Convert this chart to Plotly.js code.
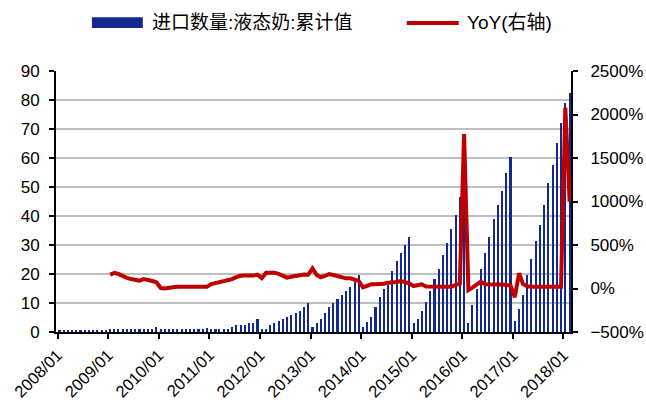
<!DOCTYPE html>
<html>
<head>
<meta charset="utf-8">
<script src="https://cdn.plot.ly/plotly-3.0.1.min.js"></script>
<style>
  html, body { margin: 0; padding: 0; background: #ffffff; }
  #chart { width: 646px; height: 410px; }
</style>
</head>
<body>
<div id="chart"></div>
<script>
// ---- Data ----
// 进口数量:液态奶:累计值 (monthly cumulative, by year)
const vol2008 = [0.8, 0.8, 0.8, 0.8, 0.8, 0.8, 0.8, 0.8, 0.8, 0.8, 0.8, 0.8];
const vol2009 = [1.0, 1.0, 1.0, 1.0, 1.0, 1.0, 1.0, 1.0, 1.0, 1.0, 1.0, 1.8];
const vol2010 = [1.0, 1.0, 1.0, 1.0, 1.0, 1.0, 1.0, 1.0, 1.0, 1.0, 1.0, 1.5];
const vol2011 = [1.0, 1.0, 1.0, 1.0, 1.0, 1.7, 2.4, 2.4, 2.4, 3.2, 3.2, 4.5];
const vol2012 = [1.15, 1.15, 2.3, 3.2, 3.9, 4.5, 5.3, 5.9, 6.7, 7.4, 8.6, 10.0];
const vol2013 = [1.7, 3.1, 4.5, 6.5, 8.5, 10.0, 11.4, 12.8, 14.1, 15.5, 17.1, 19.7];
const vol2014 = [1.8, 3.4, 5.2, 8.6, 12.1, 14.8, 16.2, 21.0, 24.5, 27.2, 30.0, 32.6];
const vol2015 = [3.0, 4.5, 7.2, 10.5, 14.1, 18.3, 21.7, 26.6, 30.7, 35.5, 40.3, 46.6];
const vol2016 = [50.0, 3.0, 9.3, 14.8, 21.7, 27.2, 32.8, 39.0, 43.8, 48.6, 54.8, 60.3];
const vol2017 = [3.9, 7.9, 12.8, 19.7, 25.2, 31.4, 36.9, 43.8, 51.4, 57.6, 65.2, 72.1];
const vol2018 = [79.0, 82.4];

// YoY(右轴), percent
const yoy2009 = [160, 180, 167, 140, 122, 110, 100, 90, 109, 92, 86, 72];
const yoy2010 = [5, 0, 3, 15, 21, 21, 21, 21, 21, 21, 21, 21];
const yoy2011 = [50, 62, 68, 80, 95, 108, 130, 146, 148, 148, 148, 160];
const yoy2012 = [120, 182, 182, 182, 168, 150, 125, 135, 146, 158, 162, 158];
const yoy2013 = [232, 155, 129, 144, 165, 155, 144, 126, 117, 117, 106, 88];
const yoy2014 = [14, 29, 48, 48, 48, 55, 67, 67, 75, 86, 67, 60];
const yoy2015 = [28, 37, 48, 22, 21, 21, 21, 21, 21, 21, 42, 52];
const yoy2016 = [1776, -17, 10, 50, 78, 50, 45, 45, 45, 45, 45, 35];
const yoy2017 = [-100, 175, 52, 25, 21, 21, 21, 21, 21, 21, 21, 21];
const yoy2018 = [2078, 998];

const years = [2008, 2009, 2010, 2011, 2012, 2013, 2014, 2015, 2016, 2017, 2018];
const tickLabels = ['2008/01', '2009/01', '2010/01', '2011/01', '2012/01', '2013/01',
                    '2014/01', '2015/01', '2016/01', '2017/01', '2018/01'];
const seriesNames = ['进口数量:液态奶:累计值', 'YoY(右轴)'];

// ---- Build traces ----
function monthDates(year, n) {
  const out = [];
  for (let m = 1; m <= n; m++) out.push(year + '-' + String(m).padStart(2, '0') + '-15');
  return out;
}
const volByYear = [vol2008, vol2009, vol2010, vol2011, vol2012, vol2013, vol2014, vol2015, vol2016, vol2017, vol2018];
const yoyByYear = [null, yoy2009, yoy2010, yoy2011, yoy2012, yoy2013, yoy2014, yoy2015, yoy2016, yoy2017, yoy2018];

let volX = [], volY = [], yoyX = [], yoyY = [];
years.forEach((yr, i) => {
  const v = volByYear[i];
  volX = volX.concat(monthDates(yr, v.length));
  volY = volY.concat(v);
  const r = yoyByYear[i];
  if (r) { yoyX = yoyX.concat(monthDates(yr, r.length)); yoyY = yoyY.concat(r); }
});
const tickVals = years.map(y => y + '-01-01');

const DAY = 86400000;
const barTrace = {
  type: 'bar', x: volX, y: volY, name: seriesNames[0],
  marker: { color: '#13288F', line: { width: 0 } },
  width: 15 * DAY, showlegend: false, hoverinfo: 'x+y'
};
const lineTrace = {
  type: 'scatter', mode: 'lines', x: yoyX, y: yoyY, name: seriesNames[1], yaxis: 'y2',
  line: { color: '#C00000', width: 4, shape: 'linear' }, showlegend: false
};

const tickFont = { family: 'Arial, "Liberation Sans", sans-serif', size: 17, color: '#000000' };
const legFont = { family: 'Arial, "Liberation Sans", "Noto Sans CJK SC", sans-serif', size: 19, color: '#000000' };

const layout = {
  width: 646, height: 410,
  margin: { l: 56, r: 75, t: 71, b: 78, pad: 0 },
  paper_bgcolor: '#ffffff', plot_bgcolor: '#ffffff',
  showlegend: false,
  bargap: 0,
  xaxis: {
    type: 'date', range: ['2007-12-21', '2018-02-25'],
    tickmode: 'array', tickvals: tickVals, ticktext: tickLabels,
    tickangle: -45, tickfont: { family: 'Arial, "Liberation Sans", sans-serif', size: 16.5, color: '#000000' },
    ticks: 'outside', ticklen: 5, tickwidth: 2, tickcolor: '#000000',
    showline: true, linecolor: '#000000', linewidth: 2,
    showgrid: false, zeroline: false, fixedrange: true
  },
  yaxis: {
    range: [0, 90], tickmode: 'linear', tick0: 0, dtick: 10,
    tickfont: tickFont, ticks: 'outside', ticklen: 5, tickwidth: 2, tickcolor: '#000000',
    showline: true, linecolor: '#000000', linewidth: 2,
    showgrid: true, gridcolor: '#BFBFBF', gridwidth: 2, zeroline: false,
    ticklabelstandoff: 6
  },
  yaxis2: {
    range: [-500, 2500], tickmode: 'linear', tick0: -500, dtick: 500, ticksuffix: '%',
    overlaying: 'y', side: 'right',
    tickfont: tickFont, ticks: 'outside', ticklen: 5, tickwidth: 2, tickcolor: '#000000',
    showline: true, linecolor: '#000000', linewidth: 2,
    showgrid: false, zeroline: false,
    ticklabelstandoff: 9
  },
  shapes: [
    { type: 'rect', xref: 'paper', yref: 'paper', x0: 0.0697, x1: 0.1686, y0: 1.165, y1: 1.206,
      fillcolor: '#13288F', line: { width: 0 } },
    { type: 'line', xref: 'paper', yref: 'paper', x0: 0.681, x1: 0.782, y0: 1.184, y1: 1.184,
      line: { color: '#C00000', width: 4 } }
  ],
  annotations: [
    { xref: 'paper', yref: 'paper', x: 0.182, y: 1.184, xanchor: 'left', yanchor: 'middle',
      text: seriesNames[0], showarrow: false, font: legFont },
    { xref: 'paper', yref: 'paper', x: 0.794, y: 1.184, xanchor: 'left', yanchor: 'middle',
      text: seriesNames[1], showarrow: false, font: legFont }
  ]
};

Plotly.newPlot('chart', [barTrace, lineTrace], layout, { displayModeBar: false, staticPlot: true });
</script>
</body>
</html>
